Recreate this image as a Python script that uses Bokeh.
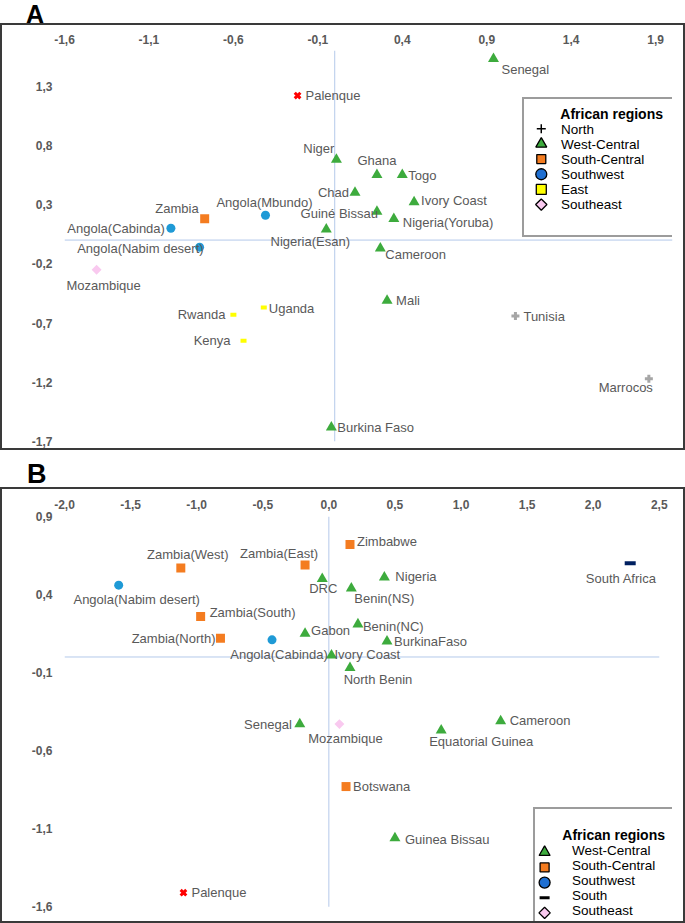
import math
from bokeh.plotting import figure
from bokeh.models import (ColumnDataSource, Legend, LegendItem, Label, FixedTicker,
                          CustomJSTickFormatter, Div, Range1d)
from bokeh.core.properties import value
from bokeh.layouts import column
from bokeh.embed import file_html
from bokeh.resources import INLINE

FONT = "Liberation Sans"

# ---------------- Panel A data ----------------
a_names = ["Senegal", "Palenque", "Niger", "Ghana", "Togo", "Chad", "Ivory Coast", "Guiné Bissau",
           "Nigeria(Yoruba)", "Nigeria(Esan)", "Cameroon", "Mali", "Burkina Faso", "Tunisia",
           "Marrocos", "Zambia", "Angola(Mbundo)", "Angola(Cabinda)", "Angola(Nabim desert)",
           "Mozambique", "Uganda", "Rwanda", "Kenya"]
a_x = [0.94, -0.22, 0.01, 0.25, 0.40, 0.12, 0.47, 0.25, 0.35, -0.05, 0.27, 0.31, -0.02, 1.07,
       1.86, -0.77, -0.41, -0.97, -0.80, -1.41, -0.42, -0.60, -0.54]
a_y = [1.53, 1.22, 0.68, 0.55, 0.55, 0.40, 0.32, 0.24, 0.18, 0.09, -0.07, -0.51, -1.58, -0.64,
       -1.17, 0.18, 0.21, 0.10, -0.06, -0.25, -0.57, -0.63, -0.85]
a_region = ["West-Central", "Palenque", "West-Central", "West-Central", "West-Central",
            "West-Central", "West-Central", "West-Central", "West-Central", "West-Central",
            "West-Central", "West-Central", "West-Central", "North", "North", "South-Central",
            "Southwest", "Southwest", "Southwest", "Southeast", "East", "East", "East"]
a_xticks = [-1.6, -1.1, -0.6, -0.1, 0.4, 0.9, 1.4, 1.9]
a_yticks = [-1.7, -1.2, -0.7, -0.2, 0.3, 0.8, 1.3]
a_xrange = (-1.6, 2.0)
a_yrange = (-1.7, 1.6)
a_legend = ["North", "West-Central", "South-Central", "Southwest", "East", "Southeast"]

# ---------------- Panel B data ----------------
b_names = ["Zimbabwe", "Zambia(West)", "Zambia(East)", "DRC", "Nigeria", "Benin(NS)",
           "South Africa", "Angola(Nabim desert)", "Zambia(South)", "Zambia(North)",
           "Angola(Cabinda)", "Gabon", "Ivory Coast", "Benin(NC)", "BurkinaFaso", "North Benin",
           "Senegal", "Mozambique", "Equatorial Guinea", "Cameroon", "Botswana",
           "Guinea Bissau", "Palenque"]
b_x = [0.16, -1.12, -0.18, -0.05, 0.42, 0.17, 2.28, -1.59, -0.97, -0.82, -0.43, -0.18, 0.02,
       0.22, 0.44, 0.16, -0.22, 0.08, 0.85, 1.30, 0.13, 0.50, -1.10]
b_y = [0.72, 0.57, 0.59, 0.50, 0.51, 0.44, 0.60, 0.46, 0.26, 0.12, 0.11, 0.15, 0.01, 0.21, 0.10,
       -0.07, -0.43, -0.43, -0.47, -0.41, -0.83, -1.16, -1.51]
b_region = ["South-Central", "South-Central", "South-Central", "West-Central", "West-Central",
            "West-Central", "South", "Southwest", "South-Central", "South-Central", "Southwest",
            "West-Central", "West-Central", "West-Central", "West-Central", "West-Central",
            "West-Central", "Southeast", "West-Central", "West-Central", "South-Central",
            "West-Central", "Palenque"]
b_xticks = [-2.0, -1.5, -1.0, -0.5, 0.0, 0.5, 1.0, 1.5, 2.0, 2.5]
b_yticks = [-1.6, -1.1, -0.6, -0.1, 0.4, 0.9]
b_xrange = (-2.0, 2.6)
b_yrange = (-1.72, 0.9)
b_legend = ["West-Central", "South-Central", "Southwest", "South", "Southeast"]

legend_title = "African regions"

# ---------------- label placement (align, dx px, dy px; dy>0 = down) ----------------
a_lab = {
    "Senegal": ("left", 8, 11), "Palenque": ("left", 8, 0), "Niger": ("right", -2, -11),
    "Ghana": ("center", 0, -14), "Togo": ("left", 6, 1), "Chad": ("right", -6, 0),
    "Ivory Coast": ("left", 7, -2), "Guiné Bissau": ("right", 1, 2),
    "Nigeria(Yoruba)": ("left", 9, 4), "Nigeria(Esan)": ("center", -16, 12),
    "Cameroon": ("left", 5, 6), "Mali": ("left", 9, 0), "Burkina Faso": ("left", 6, 0),
    "Tunisia": ("left", 8, 1), "Marrocos": ("right", 4, 9), "Zambia": ("right", -6, -10),
    "Angola(Mbundo)": ("center", -1, -13), "Angola(Cabinda)": ("right", -6, 0),
    "Angola(Nabim desert)": ("right", 4, 1), "Mozambique": ("center", 7, 16),
    "Uganda": ("left", 5, 1), "Rwanda": ("right", -8, 0), "Kenya": ("right", -13, 0),
}
b_lab = {
    "Zimbabwe": ("left", 7, -3), "Zambia(West)": ("center", 7, -14),
    "Zambia(East)": ("center", -26, -11), "DRC": ("center", 1, 10), "Nigeria": ("left", 11, -1),
    "Benin(NS)": ("left", 3, 10), "South Africa": ("center", -9, 15),
    "Angola(Nabim desert)": ("center", 18, 14), "Zambia(South)": ("left", 9, -4),
    "Zambia(North)": ("right", -5, 0), "Angola(Cabinda)": ("center", 7, 15),
    "Gabon": ("left", 6, -3), "Ivory Coast": ("left", 3, -1), "Benin(NC)": ("left", 5, 2),
    "BurkinaFaso": ("left", 7, 0), "North Benin": ("center", 28, 12),
    "Senegal": ("right", -8, 0), "Mozambique": ("center", 6, 14),
    "Equatorial Guinea": ("center", 40, 11), "Cameroon": ("left", 9, -1),
    "Botswana": ("left", 7, 0), "Guinea Bissau": ("left", 10, 1), "Palenque": ("left", 8, 0),
}

# ---------------- styles ----------------
PT = {
    "West-Central": dict(marker="triangle", size=11, fill_color="#3dab3d", line_color=None),
    "South-Central": dict(marker="square", size=9, fill_color="#f47c20", line_color=None),
    "Southwest": dict(marker="circle", size=9, fill_color="#1f9ad6", line_color=None),
    "Southeast": dict(marker="square", size=7, angle=math.pi / 4, fill_color="#f9c9ef", line_color=None),
    "North": dict(marker="cross", size=8, line_color="#a6a6a6", line_width=3),
    "Palenque": dict(marker="x", size=8, line_color="#ff0000", line_width=3),
}
RECT = {
    "East": dict(w=6, h=4, color="#ffff00"),
    "South": dict(w=11, h=4, color="#002060"),
}
# legend key swatches
LG = {
    "North": dict(marker="cross", size=9, line_color="black", line_width=1.5),
    "West-Central": dict(marker="triangle", size=11, fill_color="#3dab3d", line_color="black", line_width=1.3),
    "South-Central": dict(marker="square", size=9, fill_color="#f47c20", line_color="black", line_width=1.3),
    "Southwest": dict(marker="circle", size=11, fill_color="#1f6fd1", line_color="black", line_width=1.3),
    "East": dict(marker="square", size=10, fill_color="#ffff00", line_color="black", line_width=1.3),
    "Southeast": dict(marker="square", size=8, angle=math.pi / 4, fill_color="#f9c9ef", line_color="black", line_width=1.3),
    "South": dict(marker="dash", size=10, line_color="black", line_width=3),
}

fmt = CustomJSTickFormatter(code="return tick.toFixed(1).replace('.', ',');")
NAN = float("nan")
BORDER = 2
ROW = 15


def make_panel(names, xs, ys, regions, xr, yr, xticks, yticks, line_x, line_y, labpos,
               legend_names, width, height, borders, leg_loc, leg_pad, glyph_w, standoff,
               label_w, blanks_top, blanks_bottom, title_dy, x_standoff, y_standoff):
    p = figure(width=width, height=height, x_range=Range1d(*xr), y_range=Range1d(*yr),
               x_axis_location="above", output_backend="svg", toolbar_location=None,
               min_border_left=borders[0], min_border_right=borders[1],
               min_border_top=borders[2], min_border_bottom=borders[3], margin=0,
               styles={"border": "%dpx solid #3a3a3a" % BORDER, "box-sizing": "border-box"})
    p.grid.visible = False
    p.outline_line_color = None
    for ax, ticks, so in ((p.xaxis[0], xticks, x_standoff), (p.yaxis[0], yticks, y_standoff)):
        ax.ticker = FixedTicker(ticks=ticks)
        ax.formatter = fmt
        ax.axis_line_color = None
        ax.major_tick_line_color = None
        ax.minor_tick_line_color = None
        ax.major_tick_out = 0
        ax.major_tick_in = 0
        ax.minor_tick_out = 0
        ax.major_label_text_font = FONT
        ax.major_label_text_font_style = "bold"
        ax.major_label_text_font_size = "12px"
        ax.major_label_text_color = "#595959"
        ax.major_label_standoff = so
    # zero lines
    p.segment(x0=[0, line_x[0]], y0=[line_y[0], 0], x1=[0, line_x[1]], y1=[line_y[1], 0],
              line_color="#b4c9ea", line_width=1)

    # points
    for reg in dict.fromkeys(regions):
        idx = [i for i, r in enumerate(regions) if r == reg]
        src = ColumnDataSource(dict(x=[xs[i] for i in idx], y=[ys[i] for i in idx]))
        if reg in RECT:
            st = RECT[reg]
            p.rect("x", "y", width=st["w"], height=st["h"], width_units="screen",
                   height_units="screen", fill_color=st["color"], line_color=None, source=src)
        else:
            p.scatter("x", "y", source=src, **PT[reg])

    # labels
    for align in ("left", "center", "right"):
        idx = [i for i, n in enumerate(names) if labpos[n][0] == align]
        src = ColumnDataSource(dict(x=[xs[i] for i in idx], y=[ys[i] for i in idx],
                                    t=[names[i] for i in idx],
                                    dx=[labpos[names[i]][1] for i in idx],
                                    dy=[labpos[names[i]][2] for i in idx]))
        p.text("x", "y", text="t", x_offset="dx", y_offset="dy", source=src,
               text_align=align, text_baseline="middle", text_font_size="13px",
               text_color="#595959", text_font=value(FONT))

    # legend: box + labels from Bokeh's Legend; key swatches drawn full-size beneath it
    fw = width - 2 * BORDER - borders[0] - borders[1]
    fh = height - 2 * BORDER - borders[2] - borders[3]

    def to_data(px, py):
        return (xr[0] + px * (xr[1] - xr[0]) / fw, yr[0] + py * (yr[1] - yr[0]) / fh)

    blank = p.scatter(x=[NAN], y=[NAN], marker="circle", size=1, alpha=0)
    labels = [" "] * blanks_top + list(legend_names) + [" "] * blanks_bottom
    items = [LegendItem(label=lab, renderers=[blank]) for lab in labels]
    leg = Legend(items=items, location=leg_loc, padding=leg_pad, spacing=0,
                 label_height=ROW, glyph_height=ROW, glyph_width=glyph_w,
                 label_standoff=standoff, label_width=label_w,
                 label_text_font=FONT, label_text_font_size="13.5px", label_text_color="black",
                 border_line_color="#3a3a3a", border_line_width=2, background_fill_alpha=0,
                 margin=0)
    p.add_layout(leg, "center")
    leg_h = len(labels) * ROW + 2 * leg_pad
    top = leg_loc[1] + leg_h - leg_pad
    gx = leg_loc[0] + leg_pad + glyph_w / 2
    for i, name in enumerate(legend_names):
        sx, sy = to_data(gx, top - ROW * (blanks_top + i) - ROW / 2)
        p.scatter(x=[sx], y=[sy], **LG[name])
    tx, ty = to_data(leg_loc[0] + leg_pad + glyph_w + standoff,
                     top - ROW * (blanks_top - 1) - ROW / 2 + title_dy)
    p.add_layout(Label(x=tx, y=ty, text=legend_title, text_font=FONT, text_font_style="bold",
                       text_font_size="14px", text_baseline="middle", text_color="black"))
    return p


pA = make_panel(a_names, a_x, a_y, a_region, a_xrange, a_yrange, a_xticks, a_yticks,
                a_xrange, a_yrange, a_lab, a_legend, 685, 427, (59, 15, 25, 11), (458, 204),
                8, 20, 9, 103, 1, 1, 0, 7, 12)
pB = make_panel(b_names, b_x, b_y, b_region, b_xrange, b_yrange, b_xticks, b_yticks,
                (b_xticks[0], b_xticks[-1]), (b_yticks[0], b_yticks[-1]), b_lab, b_legend,
                685, 436, (62, 1, 27, 0), (469, 1), 4, 30, 3, 107, 2, 0, 2, 8, 12)

divA = Div(text='<div style="margin-left:26px;font-size:25px;line-height:28px;font-weight:bold;'
                'font-family:\'Liberation Sans\';color:black;">A</div>',
           width=685, height=23, margin=0, styles={"overflow": "visible"})
divB = Div(text='<div style="margin-left:27px;padding-top:9px;font-size:27px;line-height:30px;'
                'font-weight:bold;font-family:\'Liberation Sans\';color:black;">B</div>',
           width=685, height=37, margin=0, styles={"overflow": "visible"})

layout = column(divA, pA, divB, pB, spacing=0, margin=0)
open("out.html", "w").write(file_html(layout, INLINE))
